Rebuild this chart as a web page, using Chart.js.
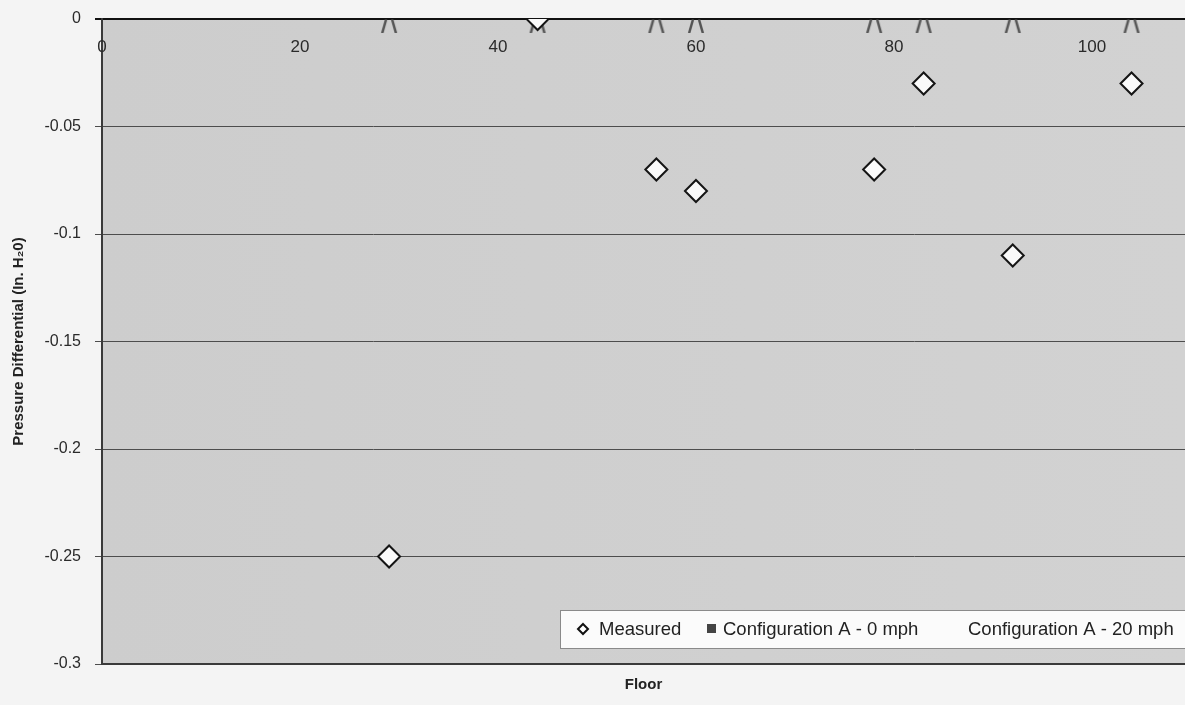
<!DOCTYPE html>
<html>
<head>
<meta charset="utf-8">
<script src="https://cdn.jsdelivr.net/npm/chart.js@4.4.0/dist/chart.umd.min.js"></script>
<style>
html, body { margin: 0; padding: 0; background: #f4f4f4; overflow: hidden; }
</style>
</head>
<body>
<canvas id="chart" width="1185" height="705"></canvas>
<script>
// floors where readings were taken
var floors = [29, 44, 56, 60, 78, 83, 92, 104];
var measured = [-0.25, 0, -0.07, -0.08, -0.07, -0.03, -0.11, -0.03];
// model values sit right on the zero line
var configA0 = [-0.003, -0.003, -0.003, -0.003, -0.003, -0.003, -0.003, -0.003];
var configA20 = [0, 0, 0, 0, 0, 0, 0, 0];
var xTickLabels = [0, 20, 40, 60, 80, 100];
var yTickLabels = ["-0.3", "-0.25", "-0.2", "-0.15", "-0.1", "-0.05", "0"];

var FONT = '"Liberation Sans", Arial, sans-serif';

function pts(ys) {
	return floors.map(function (f, i) { return { x: f, y: ys[i] }; });
}

// half-hidden marker: only the two sloping sides show under the zero line
var peak = document.createElement('canvas');
peak.width = 18; peak.height = 16;
(function () {
	var c = peak.getContext('2d');
	c.strokeStyle = '#555';
	c.lineWidth = 2.5;
	c.beginPath();
	c.moveTo(2, 16); c.lineTo(6, 2);
	c.moveTo(16, 16); c.lineTo(12, 2);
	c.stroke();
})();

var plotBg = {
	id: 'plotBg',
	beforeDraw: function (chart) {
		var a = chart.chartArea, ctx = chart.ctx;
		var g = ctx.createLinearGradient(a.left, 0, a.right, 0);
		g.addColorStop(0, '#cdcdcd');
		g.addColorStop(1, '#d2d2d2');
		ctx.save();
		ctx.fillStyle = g;
		ctx.fillRect(a.left, a.top, a.right - a.left, a.bottom - a.top);
		ctx.restore();
	}
};

// x labels sit inside the plot, under the zero line
var innerXLabels = {
	id: 'innerXLabels',
	beforeDatasetsDraw: function (chart) {
		var ctx = chart.ctx, xs = chart.scales.x;
		ctx.save();
		ctx.font = '17px ' + FONT;
		ctx.fillStyle = '#2a2a2a';
		ctx.textAlign = 'center';
		ctx.textBaseline = 'middle';
		xTickLabels.forEach(function (v) {
			ctx.fillText(String(v), xs.getPixelForValue(v), chart.chartArea.top + 28);
		});
		ctx.restore();
	}
};

var legendX = [583, 712, 968];

var boxLegend = {
	id: 'boxLegend',
	afterDraw: function (chart) {
		var ctx = chart.ctx;
		var bx = 560, by = 610, bh = 38, bw = chart.width - bx + 2;
		ctx.save();
		ctx.fillStyle = '#fbfbfb';
		ctx.fillRect(bx, by, bw, bh);
		ctx.strokeStyle = '#8a8a8a';
		ctx.lineWidth = 1;
		ctx.strokeRect(bx + 0.5, by + 0.5, bw, bh);
		var cy = by + bh / 2;
		ctx.font = '18.5px ' + FONT;
		ctx.textBaseline = 'middle';
		chart.data.datasets.forEach(function (ds, i) {
			var x = legendX[i], tx = x;
			if (i === 0) {
				ctx.beginPath();
				ctx.moveTo(x, cy - 5); ctx.lineTo(x + 5, cy); ctx.lineTo(x, cy + 5); ctx.lineTo(x - 5, cy);
				ctx.closePath();
				ctx.fillStyle = '#fff'; ctx.fill();
				ctx.strokeStyle = '#111'; ctx.lineWidth = 2; ctx.stroke();
				tx = x + 16;
			} else if (i === 1) {
				ctx.fillStyle = '#444';
				ctx.fillRect(x - 5, cy - 5, 9, 9);
				tx = x + 11;
			}
			ctx.fillStyle = '#222';
			ctx.fillText(ds.label, tx, cy + 1);
		});
		ctx.restore();
	}
};

new Chart(document.getElementById('chart'), {
	type: 'scatter',
	data: {
		datasets: [
			{
				label: 'Measured',
				data: pts(measured),
				pointStyle: 'rectRot',
				pointRadius: 11,
				pointHoverRadius: 11,
				pointBackgroundColor: '#fafafa',
				pointBorderColor: '#151515',
				pointBorderWidth: 2
			},
			{
				label: 'Configuration A - 0 mph',
				data: pts(configA0),
				pointStyle: peak,
				pointRadius: 9,
				clip: 0
			},
			{
				label: 'Configuration A - 20 mph',
				data: pts(configA20),
				pointRadius: 0,
				pointBackgroundColor: 'rgba(0,0,0,0)',
				pointBorderColor: 'rgba(0,0,0,0)'
			}
		]
	},
	options: {
		responsive: false,
		animation: false,
		layout: { autoPadding: false, padding: { top: 19, left: 0, right: 0, bottom: 0 } },
		plugins: {
			legend: { display: false },
			tooltip: { enabled: false }
		},
		scales: {
			x: {
				type: 'linear',
				position: 'bottom',
				min: 0,
				max: 109.4,
				ticks: { display: false, stepSize: 20 },
				grid: { display: false, drawTicks: false },
				border: { display: true, color: '#3a3a3a', width: 2 },
				title: {
					display: true,
					text: 'Floor',
					color: '#222',
					font: { family: FONT, size: 15, weight: 'bold' },
					padding: { top: 0, bottom: 11 }
				},
				afterFit: function (s) { s.height = 41; }
			},
			y: {
				min: -0.3,
				max: 0,
				ticks: {
					stepSize: 0.05,
					color: '#2a2a2a',
					padding: 14,
					font: { family: FONT, size: 16 },
					callback: function (v, i) { return yTickLabels[i]; }
				},
				grid: {
					color: function (c) { return c.tick && c.tick.value === 0 ? '#111' : '#4d4d4d'; },
					lineWidth: function (c) { return c.tick && c.tick.value === 0 ? 2 : 1; },
					tickLength: 7
				},
				border: { display: true, color: '#3a3a3a', width: 2 },
				title: {
					display: true,
					text: 'Pressure Differential (In. H\u20820)',
					color: '#222',
					font: { family: FONT, size: 15, weight: 'bold' },
					padding: { top: 10, bottom: 0 }
				},
				afterFit: function (s) {
					s.width = 102;
					s.paddingTop = 0;
					s.paddingBottom = 0;
				}
			}
		}
	},
	plugins: [plotBg, innerXLabels, boxLegend]
});
</script>
</body>
</html>
